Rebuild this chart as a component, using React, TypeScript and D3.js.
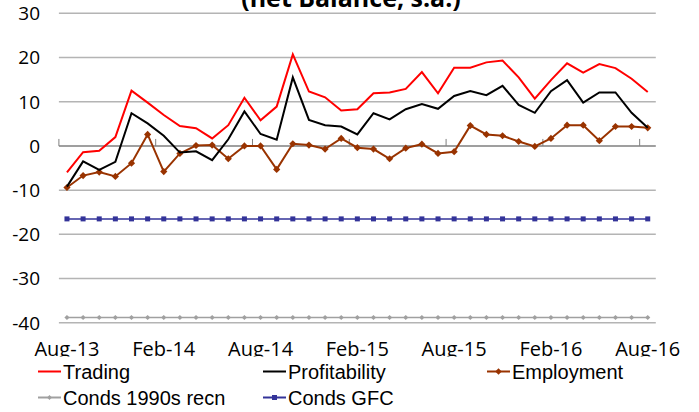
import React from 'react';
import * as d3 from 'd3';

const months = [
  'Aug-13', 'Sep-13', 'Oct-13', 'Nov-13', 'Dec-13', 'Jan-14', 'Feb-14', 'Mar-14', 'Apr-14', 'May-14',
  'Jun-14', 'Jul-14', 'Aug-14', 'Sep-14', 'Oct-14', 'Nov-14', 'Dec-14', 'Jan-15', 'Feb-15', 'Mar-15',
  'Apr-15', 'May-15', 'Jun-15', 'Jul-15', 'Aug-15', 'Sep-15', 'Oct-15', 'Nov-15', 'Dec-15', 'Jan-16',
  'Feb-16', 'Mar-16', 'Apr-16', 'May-16', 'Jun-16', 'Jul-16', 'Aug-16',
];

const xTickLabels = ['Aug-13', 'Feb-14', 'Aug-14', 'Feb-15', 'Aug-15', 'Feb-16', 'Aug-16'];
const yTicks = [30, 20, 10, 0, -10, -20, -30, -40];

const trading = [
  -6.0, -1.4, -1.1, 2.0, 12.5, 9.8, 7.0, 4.5, 4.0, 1.7, 4.7, 10.9, 5.8, 8.9, 20.7, 12.3, 11.0, 8.0, 8.3,
  11.9, 12.1, 12.9, 16.7, 11.9, 17.7, 17.7, 18.9, 19.3, 15.5, 10.7, 14.9, 18.7, 16.6, 18.5, 17.6, 15.2, 12.2,
];
const profitability = [
  -9.2, -3.5, -5.4, -3.6, 7.4, 5.1, 2.3, -1.5, -1.2, -3.2, 1.5, 7.8, 2.7, 1.4, 15.5, 5.9, 4.7, 4.4, 2.6,
  7.4, 6.0, 8.3, 9.5, 8.4, 11.3, 12.4, 11.5, 13.6, 9.3, 7.5, 12.4, 14.9, 9.8, 12.1, 12.1, 7.5, 4.1,
];
const employment = [
  -9.4, -6.7, -5.9, -6.9, -3.9, 2.6, -5.8, -1.7, 0.1, 0.2, -2.9, 0.0, 0.0, -5.3, 0.5, 0.2, -0.7, 1.7, -0.4,
  -0.7, -2.9, -0.5, 0.4, -1.7, -1.3, 4.6, 2.6, 2.3, 1.0, -0.1, 1.7, 4.7, 4.7, 1.2, 4.4, 4.4, 4.1,
];
const conds1990s = [
  -38.8, -38.8, -38.8, -38.8, -38.8, -38.8, -38.8, -38.8, -38.8, -38.8, -38.8, -38.8, -38.8, -38.8, -38.8,
  -38.8, -38.8, -38.8, -38.8, -38.8, -38.8, -38.8, -38.8, -38.8, -38.8, -38.8, -38.8, -38.8, -38.8, -38.8,
  -38.8, -38.8, -38.8, -38.8, -38.8, -38.8, -38.8,
];
const condsGFC = [
  -16.5, -16.5, -16.5, -16.5, -16.5, -16.5, -16.5, -16.5, -16.5, -16.5, -16.5, -16.5, -16.5, -16.5, -16.5,
  -16.5, -16.5, -16.5, -16.5, -16.5, -16.5, -16.5, -16.5, -16.5, -16.5, -16.5, -16.5, -16.5, -16.5, -16.5,
  -16.5, -16.5, -16.5, -16.5, -16.5, -16.5, -16.5,
];

const W = 699;
const H = 412;
const axisFont = '"Open Sans", Lato, sans-serif';
const legendFont = '"Liberation Sans", Arial, sans-serif';

const diamond = (x: number, y: number, r: number) =>
  `M${x},${y - r}L${x + r},${y}L${x},${y + r}L${x - r},${y}Z`;

const App = () => {
  const x = d3.scaleBand().domain(months).range([58.9, 655.8]).padding(0);
  const y = d3.scaleLinear().domain([-40, 30]).range([322.8, 13.3]);
  const cx = (i: number) => (x(months[i]) as number) + x.bandwidth() / 2;

  const line = d3
    .line<number>()
    .x((_, i) => cx(i))
    .y((d) => y(d));

  const tickIdx = [0, 6, 12, 18, 24, 30, 36];

  // legend entries
  const legend = [
    { label: 'Trading', color: '#ff0000', mark: 'none', lx: 38, ly: 371.5 },
    { label: 'Profitability', color: '#000000', mark: 'none', lx: 263, ly: 371.5 },
    { label: 'Employment', color: '#993300', mark: 'diamond', lx: 487, ly: 371.5 },
    { label: 'Conds 1990s recn', color: '#a0a0a0', mark: 'small', lx: 38, ly: 397.5 },
    { label: 'Conds GFC', color: '#333399', mark: 'square', lx: 263, ly: 397.5 },
  ];

  return (
    <svg width={W} height={H} style={{ position: 'absolute', left: 0, top: 0, background: '#fff' }}>
      <defs>
        <clipPath id="xlab">
          <rect x={0} y={330} width={W} height={26.5} />
        </clipPath>
      </defs>

      {/* title, its upper part falls outside the picture as in the original */}
      <text
        x={351}
        y={7}
        textAnchor="middle"
        fontFamily={axisFont}
        fontWeight="bold"
        fontSize={25}
        fill="#000"
      >
        (net Balance, s.a.)
      </text>

      {/* gridlines */}
      {yTicks
        .filter((t) => t !== 0)
        .map((t) => (
          <line key={t} x1={58.9} x2={655.8} y1={y(t)} y2={y(t)} stroke="#b4b4b4" strokeWidth={1.5} />
        ))}

      {/* zero axis line with ticks */}
      <line x1={58.9} x2={655.8} y1={y(0)} y2={y(0)} stroke="#7f7f7f" strokeWidth={1.5} />
      {tickIdx.map((i) => {
        const tx = x(months[i]) as number;
        return <line key={i} x1={tx} x2={tx} y1={y(0) - 7} y2={y(0)} stroke="#7f7f7f" strokeWidth={1} />;
      })}

      {/* y labels */}
      {yTicks.map((t) => (
        <text
          key={t}
          x={40}
          y={y(t)}
          dy="0.36em"
          textAnchor="end"
          fontFamily={axisFont}
          fontSize={19}
          fill="#000"
        >
          {t}
        </text>
      ))}

      {/* x labels */}
      <g clipPath="url(#xlab)">
        {xTickLabels.map((m) => (
          <text
            key={m}
            x={cx(months.indexOf(m))}
            y={355.5}
            textAnchor="middle"
            fontFamily={axisFont}
            fontSize={20}
            fill="#000"
          >
            {m}
          </text>
        ))}
      </g>

      {/* series */}
      <path d={line(conds1990s) || ''} fill="none" stroke="#a0a0a0" strokeWidth={1.5} />
      {conds1990s.map((d, i) => (
        <path key={'g' + i} d={diamond(cx(i), y(d), 2.6)} fill="#a0a0a0" />
      ))}

      <path d={line(condsGFC) || ''} fill="none" stroke="#333399" strokeWidth={1.5} />
      {condsGFC.map((d, i) => (
        <rect key={'b' + i} x={cx(i) - 2.5} y={y(d) - 2.5} width={5} height={5} fill="#333399" />
      ))}

      <path d={line(employment) || ''} fill="none" stroke="#993300" strokeWidth={2} />
      {employment.map((d, i) => (
        <path key={'e' + i} d={diamond(cx(i), y(d), 3.6)} fill="#993300" />
      ))}

      <path d={line(profitability) || ''} fill="none" stroke="#000" strokeWidth={2} />
      <path d={line(trading) || ''} fill="none" stroke="#ff0000" strokeWidth={2} />

      {/* legend */}
      {legend.map((l) => (
        <g key={l.label}>
          <line x1={l.lx} x2={l.lx + 23} y1={l.ly} y2={l.ly} stroke={l.color} strokeWidth={2} />
          {l.mark === 'diamond' && <path d={diamond(l.lx + 11.5, l.ly, 3.2)} fill={l.color} />}
          {l.mark === 'small' && <path d={diamond(l.lx + 11.5, l.ly, 2.4)} fill={l.color} />}
          {l.mark === 'square' && (
            <rect x={l.lx + 9} y={l.ly - 2.5} width={5} height={5} fill={l.color} />
          )}
          <text x={l.lx + 25} y={l.ly + 7} fontFamily={legendFont} fontSize={20} fill="#000">
            {l.label}
          </text>
        </g>
      ))}
    </svg>
  );
};

export default App;
